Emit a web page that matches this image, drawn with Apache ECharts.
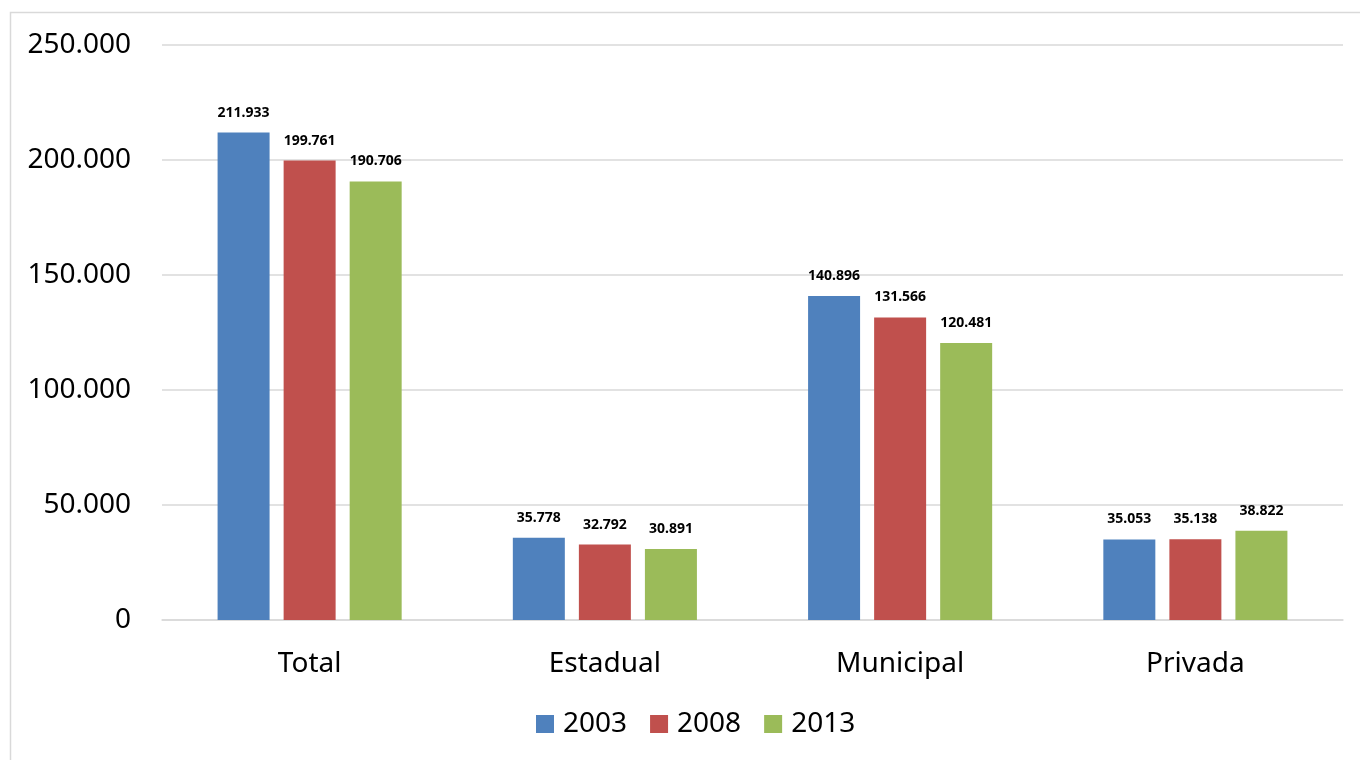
<!DOCTYPE html>
<html>
<head>
<meta charset="utf-8">
<style>
html,body{margin:0;padding:0;background:#fff;}
#chart{width:1360px;height:760px;}
</style>
<script src="https://cdn.jsdelivr.net/npm/echarts@6/dist/echarts.min.js"></script>
</head>
<body>
<div id="chart"></div>
<script>
const categories = ['Total', 'Estadual', 'Municipal', 'Privada'];
const seriesNames = ['2003', '2008', '2013'];
const values2003 = [211933, 35778, 140896, 35053];
const values2008 = [199761, 32792, 131566, 35138];
const values2013 = [190706, 30891, 120481, 38822];
const colors = ['#4f81bd', '#c0504d', '#9bbb59'];

function fmt(v) {
  return String(Math.round(v)).replace(/\B(?=(\d{3})+(?!\d))/g, '.');
}

const font = '"Noto Sans", "Open Sans", sans-serif';
const chart = echarts.init(document.getElementById('chart'));
const allValues = [values2003, values2008, values2013];

chart.setOption({
  animation: false,
  textStyle: { fontFamily: font },
  graphic: [{
    type: 'rect',
    shape: { x: 10.5, y: 12.5, width: 1400, height: 800 },
    style: { fill: 'none', stroke: '#d9d9d9', lineWidth: 1.5 },
    silent: true
  }],
  grid: { left: 162, right: 17, top: 45, bottom: 140, containLabel: false },
  legend: {
    bottom: 17,
    left: 531,
    itemWidth: 18,
    itemHeight: 18,
    itemGap: 23,
    icon: 'rect',
    textStyle: { fontSize: 28, color: '#000', fontFamily: font, padding: [0, 0, 0, 4] },
    data: seriesNames
  },
  xAxis: {
    type: 'category',
    data: categories,
    axisLine: { show: true, lineStyle: { color: '#d9d9d9', width: 1.5 } },
    axisTick: { show: false },
    axisLabel: { fontSize: 28, color: '#000', margin: 30, fontFamily: font }
  },
  yAxis: {
    type: 'value',
    min: 0,
    max: 250000,
    interval: 50000,
    axisLine: { show: false },
    axisTick: { show: false },
    splitLine: { lineStyle: { color: '#d9d9d9', width: 1.5 } },
    axisLabel: { fontSize: 28, color: '#000', margin: 31, fontFamily: font, formatter: fmt }
  },
  series: seriesNames.map((name, i) => ({
    name: name,
    type: 'bar',
    data: allValues[i],
    barWidth: 52,
    barGap: '27%',
    itemStyle: { color: colors[i] },
    label: {
      show: true,
      position: 'top',
      distance: 13,
      fontSize: 14,
      fontWeight: 'bold',
      color: '#000',
      fontFamily: font,
      formatter: p => fmt(p.value)
    }
  }))
});
</script>
</body>
</html>
